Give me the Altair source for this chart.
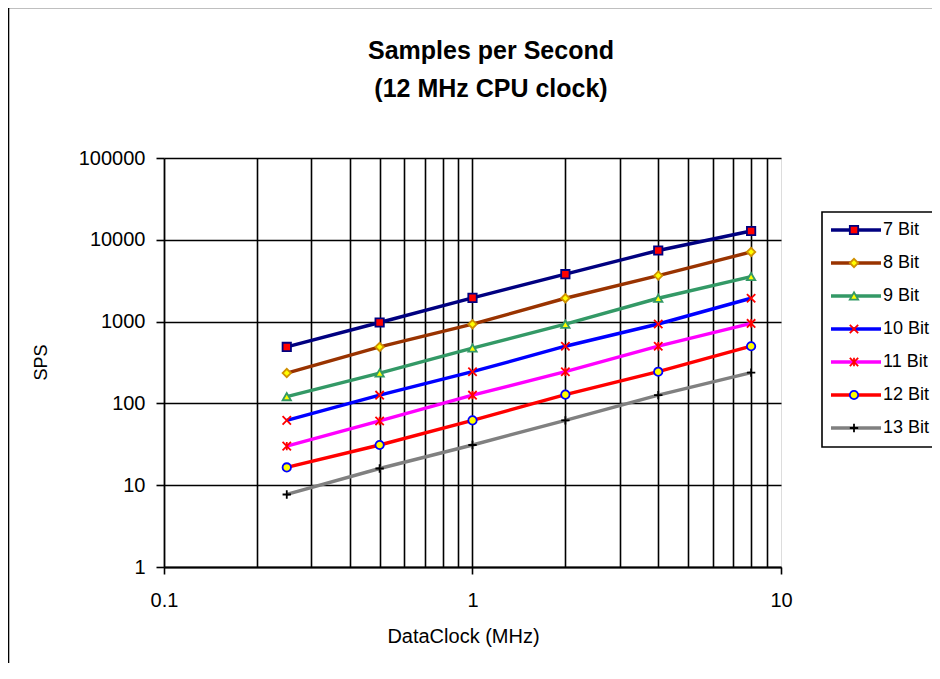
import altair as alt
import pandas as pd

# ---------------- data ----------------
series_names = ["7 Bit", "8 Bit", "9 Bit", "10 Bit", "11 Bit", "12 Bit", "13 Bit"]
data_clock_mhz = [0.25, 0.5, 1, 2, 4, 8]
sps_7bit = [490, 975, 1950, 3800, 7400, 12800]
sps_8bit = [235, 490, 930, 1930, 3650, 7100]
sps_9bit = [121, 235, 475, 930, 1930, 3550]
sps_10bit = [62, 126, 244, 500, 935, 1930]
sps_11bit = [30, 61, 126, 244, 500, 950]
sps_12bit = [16.5, 31, 62, 128, 244, 500]
sps_13bit = [7.7, 16, 31, 62, 126, 238]
all_sps = [sps_7bit, sps_8bit, sps_9bit, sps_10bit, sps_11bit, sps_12bit, sps_13bit]

title_lines = ["Samples per Second", "(12 MHz CPU clock)"]
x_title = "DataClock (MHz)"
y_title = "SPS"
x_tick_values = [0.1, 0.2, 0.3, 0.4, 0.5, 0.6, 0.7, 0.8, 0.9,
                 1, 2, 3, 4, 5, 6, 7, 8, 9, 10]
y_tick_values = [1, 10, 100, 1000, 10000, 100000]

rows = []
for name, vals in zip(series_names, all_sps):
    for x, v in zip(data_clock_mhz, vals):
        rows.append({"series": name, "clock": x, "sps": v})
df = pd.DataFrame(rows)
legend_df = pd.DataFrame({"series": series_names, "idx": list(range(len(series_names)))})

# ---------------- styles ----------------
FONT = "Liberation Sans"
line_colors = ["#000080", "#993300", "#339966", "#0000FF", "#FF00FF", "#FF0000", "#808080"]
marker_shapes = ["square", "diamond", "triangle-up",
                 "M-1,-1L1,1M-1,1L1,-1",
                 "M-1,-1L1,1M-1,1L1,-1M0,-1L0,1",
                 "circle",
                 "M-1,0L1,0M0,-1L0,1"]
marker_fills = ["#FF0000", "#FFFF00", "#FFFF00", "transparent", "transparent", "#FFFF00", "transparent"]
marker_strokes = ["#000080", "#D09000", "#339966", "#FF0000", "#FF0000", "#0000FF", "#000000"]

color_scale = alt.Scale(domain=series_names, range=line_colors)
shape_scale = alt.Scale(domain=series_names, range=marker_shapes)
fill_scale = alt.Scale(domain=series_names, range=marker_fills)
stroke_scale = alt.Scale(domain=series_names, range=marker_strokes)

W, H = 617, 409
GRID_W = 1.6
MARK_SIZE = 70

x_enc = alt.X(
    "clock:Q",
    scale=alt.Scale(type="log", domain=[0.1, 10], nice=False),
    axis=alt.Axis(
        values=x_tick_values,
        labelExpr="(datum.value == 0.1 || datum.value == 1 || datum.value == 10) ? format(datum.value, '~g') : ''",
        labelFlush=False,
        labelOverlap=False,
        labelFont=FONT,
        labelFontSize=20,
        labelColor="black",
        labelPadding=16,
        tickSize=7,
        tickWidth=1.6,
        tickColor="black",
        tickOpacity={"condition": {"test": "datum.value == 0.1 || datum.value == 1 || datum.value == 10", "value": 1}, "value": 0},
        domainColor="black",
        domainWidth=1.8,
        grid=True,
        gridColor="black",
        gridWidth=GRID_W,
        gridOpacity={"condition": {"test": "datum.value == 0.1 || datum.value == 10", "value": 0}, "value": 1},
        title=x_title,
        titleFont=FONT,
        titleFontSize=20,
        titleFontWeight="normal",
        titleColor="black",
        titleX=299,
        titleY=69,
        titleBaseline="middle",
        titleAlign="center",
    ),
)
y_enc = alt.Y(
    "sps:Q",
    scale=alt.Scale(type="log", domain=[1, 100000], nice=False),
    axis=alt.Axis(
        values=y_tick_values,
        format="d",
        labelFlush=False,
        labelFont=FONT,
        labelFontSize=20,
        labelColor="black",
        labelPadding=11,
        tickSize=8,
        tickWidth=1.6,
        tickColor="black",
        domainColor="black",
        domainWidth=1.8,
        grid=True,
        gridColor="black",
        gridWidth=GRID_W,
        title=y_title,
        titleFont=FONT,
        titleFontSize=18,
        titleFontWeight="normal",
        titleColor="black",
        titleAngle=-90,
        titleX=-123,
        titleY=204,
        titleBaseline="middle",
        titleAlign="center",
    ),
)

lines = alt.Chart(df).mark_line(strokeWidth=3.4).encode(
    x=x_enc,
    y=y_enc,
    color=alt.Color("series:N", scale=color_scale, legend=None),
    detail="series:N",
)

points = alt.Chart(df).mark_point(filled=True, opacity=1, strokeWidth=1.8, size=MARK_SIZE).encode(
    x="clock:Q",
    y="sps:Q",
    shape=alt.Shape("series:N", scale=shape_scale, legend=None),
    fill=alt.Fill("series:N", scale=fill_scale, legend=None),
    stroke=alt.Stroke("series:N", scale=stroke_scale, legend=None),
)

main = alt.layer(lines, points)

# ---------------- custom Excel-like legend ----------------
leg_y = alt.Y("idx:Q", scale=alt.Scale(domain=[0, 6], range=[72, 270]), axis=None)

leg_box = alt.Chart(pd.DataFrame({"k": [0]})).mark_rect(
    fill="white", stroke="black", strokeWidth=1.6
).encode(
    x=alt.value(658), x2=alt.value(820), y=alt.value(54), y2=alt.value(289)
)

leg_lines = alt.Chart(legend_df).mark_rule(strokeWidth=3.4).encode(
    x=alt.value(667), x2=alt.value(717), y=leg_y,
    color=alt.Color("series:N", scale=color_scale, legend=None),
)
leg_points = alt.Chart(legend_df).mark_point(filled=True, opacity=1, strokeWidth=1.8, size=MARK_SIZE).encode(
    x=alt.value(690), y=leg_y,
    shape=alt.Shape("series:N", scale=shape_scale, legend=None),
    fill=alt.Fill("series:N", scale=fill_scale, legend=None),
    stroke=alt.Stroke("series:N", scale=stroke_scale, legend=None),
)
leg_text = alt.Chart(legend_df).mark_text(
    align="left", baseline="middle", font=FONT, fontSize=18, color="black"
).encode(
    x=alt.value(719), y=leg_y, text="series:N"
)

legend = alt.layer(leg_box, leg_lines, leg_points, leg_text)

# ---------------- frame and title ----------------
one = pd.DataFrame({"k": [0]})
frame = alt.Chart(one).mark_rect(
    fill="transparent", stroke="black", strokeWidth=1.6
).encode(
    x=alt.value(-155.5), x2=alt.value(820), y=alt.value(-150.5), y2=alt.value(700)
)
title1 = alt.Chart(one).mark_text(
    align="center", baseline="alphabetic", font=FONT, fontSize=25, fontWeight="bold", color="black"
).encode(x=alt.value(327), y=alt.value(-99), text=alt.value(title_lines[0]))
title2 = alt.Chart(one).mark_text(
    align="center", baseline="alphabetic", font=FONT, fontSize=25, fontWeight="bold", color="black"
).encode(x=alt.value(327), y=alt.value(-61), text=alt.value(title_lines[1]))

chart = alt.layer(
    frame, title1, title2, main, legend
).resolve_scale(
    y="independent"
).properties(
    width=W,
    height=H,
    autosize=alt.AutoSizeParams(type="none"),
    padding={"left": 156, "top": 150, "right": 151, "bottom": 96},
).configure_view(
    stroke="#808080", strokeWidth=2
).configure(
    background="white"
)

chart.save("out.html", embed_options={"renderer": "svg", "actions": False})
